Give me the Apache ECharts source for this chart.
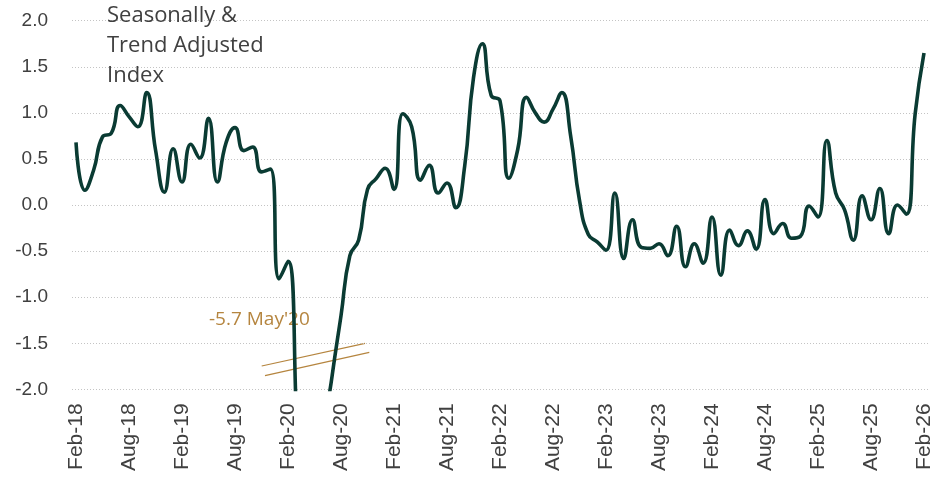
<!DOCTYPE html>
<html>
<head>
<meta charset="utf-8">
<script src="https://cdn.jsdelivr.net/npm/echarts@6/dist/echarts.min.js"></script>
<style>
html,body{margin:0;padding:0;background:#ffffff;}
#chart{width:935px;height:479px;}
</style>
</head>
<body>
<div id="chart"></div>
<script>
// ---- data ----
const monthNames = ['Jan','Feb','Mar','Apr','May','Jun','Jul','Aug','Sep','Oct','Nov','Dec'];
const categories = [];
for (let i = 0; i < 97; i++) {
  const m = (1 + i) % 12;
  const y = 18 + Math.floor((1 + i) / 12);
  categories.push(monthNames[m] + '-' + String(y).padStart(2, '0'));
}
const tickLabels = ['Feb-18','Aug-18','Feb-19','Aug-19','Feb-20','Aug-20','Feb-21','Aug-21',
  'Feb-22','Aug-22','Feb-23','Aug-23','Feb-24','Aug-24','Feb-25','Aug-25','Feb-26'];
const indexValues = [
  0.68, 0.16, 0.38, 0.74, 0.78, 1.08, 0.96, 0.85, 1.22, 0.60, 0.14, 0.61,   // Feb-18 .. Jan-19
  0.25, 0.66, 0.51, 0.94, 0.25, 0.68, 0.84, 0.59, 0.63, 0.36, 0.39, -0.80,  // Feb-19 .. Jan-20
  -0.61, -2.40, -4.50, -5.70, -2.60, -1.85, -1.20, -0.55, -0.38, 0.17, 0.29, 0.40, // Feb-20 .. Jan-21
  0.17, 0.99, 0.85, 0.27, 0.43, 0.13, 0.24, -0.03, 0.42, 1.38, 1.75, 1.19,   // Feb-21 .. Jan-22
  1.13, 0.29, 0.60, 1.17, 1.00, 0.90, 1.04, 1.22, 0.75, 0.05, -0.32, -0.40,  // Feb-22 .. Jan-23
  -0.49, 0.13, -0.58, -0.16, -0.46, -0.47, -0.42, -0.55, -0.23, -0.67, -0.42, -0.63, // Feb-23 .. Jan-24
  -0.13, -0.76, -0.27, -0.44, -0.28, -0.48, 0.06, -0.31, -0.20, -0.36, -0.34, -0.01, // Feb-24 .. Jan-25
  -0.13, 0.70, 0.13, -0.05, -0.38, 0.10, -0.16, 0.18, -0.31, 0.00, -0.10, 0.99, // Feb-25 .. Jan-26
  1.65 // Feb-26
];
const yMin = -2.0, yMax = 2.0, yStep = 0.5;
const titleLines = ['Seasonally &', 'Trend Adjusted', 'Index'];
const annotationText = "-5.7 May'20";

// ---- chart ----
const chart = echarts.init(document.getElementById('chart'), null, {renderer: 'canvas'});
const gridTop = 20.7, gridBottom = 89.6;
const option = {
  backgroundColor: '#ffffff',
  animation: false,
  title: {
    text: titleLines.join('\n'),
    left: 107, top: 1, padding: 0,
    textStyle: {fontFamily: 'Open Sans', fontSize: 22, fontWeight: 'normal', color: '#404040', lineHeight: 29.7}
  },
  grid: [
    {left: 72, right: 5, top: gridTop, bottom: gridBottom},
    {left: 76, right: 11, top: gridTop, bottom: gridBottom}
  ],
  xAxis: [
    {gridIndex: 0, type: 'value', min: 0, max: 1, show: false},
    {
      gridIndex: 1, type: 'category', data: categories, boundaryGap: false,
      axisLine: {show: false}, axisTick: {show: false}, splitLine: {show: false},
      axisLabel: {
        rotate: 90, margin: 14, fontSize: 21, color: '#404040', fontFamily: 'Liberation Sans',
        interval: function (idx, value) { return tickLabels.indexOf(value) >= 0; }
      }
    }
  ],
  yAxis: [
    {
      gridIndex: 0, type: 'value', min: yMin, max: yMax, interval: yStep,
      axisLine: {show: false}, axisTick: {show: false},
      splitLine: {show: true, lineStyle: {color: '#c4c4c4', width: 1, type: [1, 2]}},
      axisLabel: {margin: 24, fontSize: 19, color: '#404040', fontFamily: 'Liberation Sans',
        formatter: function (v) { return v.toFixed(1); }}
    },
    {gridIndex: 1, type: 'value', min: yMin, max: yMax, interval: yStep, show: false}
  ],
  series: [{
    type: 'line', xAxisIndex: 1, yAxisIndex: 1, data: indexValues,
    smooth: 0.5, showSymbol: false, clip: true,
    lineStyle: {color: '#0a3b33', width: 3.6}
  }],
  graphic: [
    {type: 'text', x: 209, y: 320, style: {text: annotationText, fontFamily: 'Open Sans', fontSize: 19,
      fill: '#b5853f', verticalAlign: 'middle', align: 'left'}},
    {type: 'line', shape: {x1: 261.7, y1: 366, x2: 365, y2: 343.3}, style: {stroke: '#b5853f', lineWidth: 1.2}},
    {type: 'line', shape: {x1: 265, y1: 375.7, x2: 369.3, y2: 352.3}, style: {stroke: '#b5853f', lineWidth: 1.2}}
  ]
};
chart.setOption(option);
</script>
</body>
</html>
